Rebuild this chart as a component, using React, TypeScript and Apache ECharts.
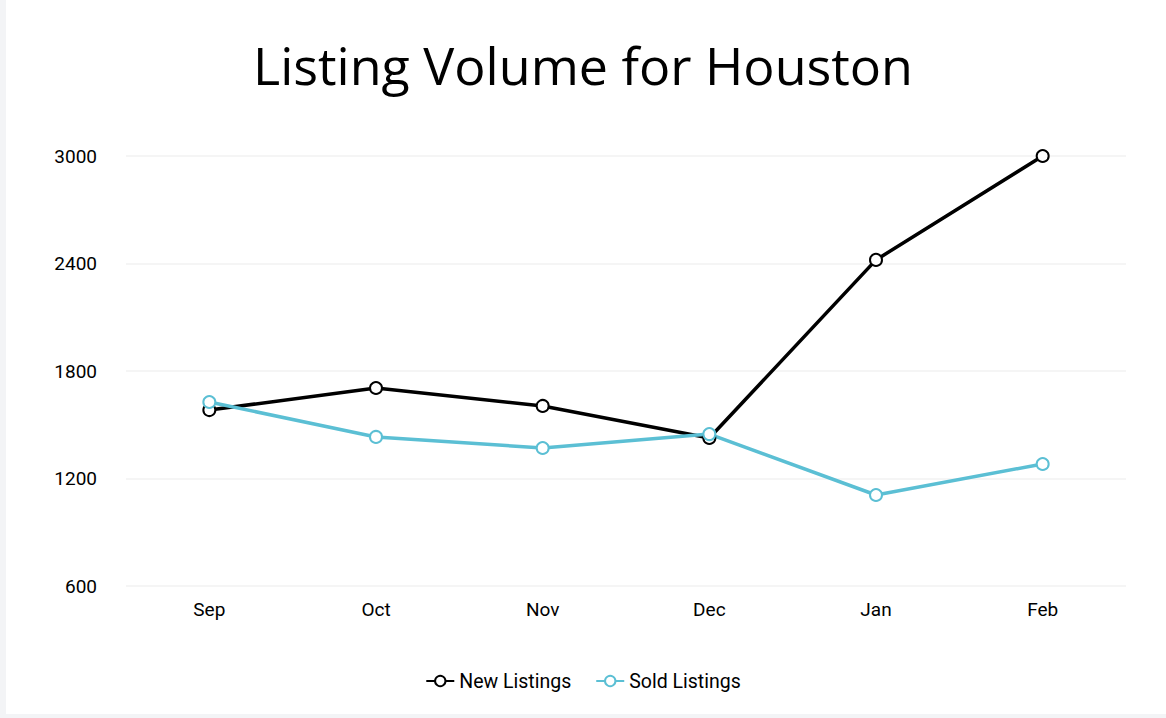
import React, { useEffect, useRef } from "react";
import * as echarts from "echarts";

const months = ["Sep", "Oct", "Nov", "Dec", "Jan", "Feb"];
const newListings = [1582, 1705, 1605, 1426, 2420, 3000];
const soldListings = [1627, 1432, 1370, 1448, 1108, 1281];

export default function App() {
  const ref = useRef<HTMLDivElement>(null);
  useEffect(() => {
    document.body.style.margin = "0";
    const chart = echarts.init(ref.current!, null, { renderer: "svg" });
    chart.setOption({
      animation: false,
      title: {
        text: "Listing Volume for Houston",
        left: "center",
        top: 33,
        textStyle: { fontFamily: "Open Sans", fontSize: 52, fontWeight: "normal", color: "#000" },
      },
      grid: { left: 126, right: 40, top: 156, bottom: 128 },
      legend: {
        bottom: 18,
        left: "center",
        itemWidth: 28,
        itemHeight: 13,
        itemGap: 24,
        textStyle: { fontFamily: "Roboto", fontSize: 19.5, color: "#000" },
        data: ["New Listings", "Sold Listings"],
      },
      xAxis: {
        type: "category",
        data: months,
        boundaryGap: true,
        axisLine: { show: false },
        axisTick: { show: false },
        axisLabel: { fontFamily: "Roboto", fontSize: 19, color: "#000", margin: 14 },
      },
      yAxis: {
        type: "value",
        min: 600,
        max: 3000,
        interval: 600,
        axisLine: { show: false },
        axisTick: { show: false },
        splitLine: { lineStyle: { color: "#f2f2f2", width: 1.5 } },
        axisLabel: {
          fontFamily: "Roboto",
          fontSize: 19,
          color: "#000",
          margin: 29,
          formatter: (v: number) => String(v),
        },
      },
      series: [
        {
          name: "New Listings",
          type: "line",
          data: newListings,
          symbol: "emptyCircle",
          symbolSize: 12,
          itemStyle: { color: "#000", borderWidth: 3.5 },
          lineStyle: { color: "#000", width: 3.5 },
        },
        {
          name: "Sold Listings",
          type: "line",
          data: soldListings,
          symbol: "emptyCircle",
          symbolSize: 12,
          itemStyle: { color: "#5bbfd4", borderWidth: 3.5 },
          lineStyle: { color: "#5bbfd4", width: 3.5 },
        },
      ],
    });
    return () => chart.dispose();
  }, []);
  return (
    <div style={{ position: "absolute", left: 0, top: 0, width: 1166, height: 718, background: "#f3f4f6" }}>
      <div style={{ position: "absolute", left: 6, top: 0, width: 1160, height: 714, background: "#fff" }}>
        <div ref={ref} style={{ position: "absolute", left: -6, top: 0, width: 1166, height: 714 }} />
      </div>
    </div>
  );
}
